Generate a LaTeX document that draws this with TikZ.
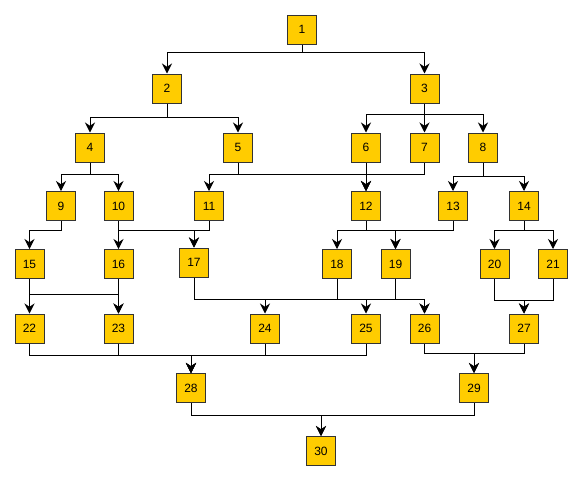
\documentclass[tikz,border=0pt]{standalone}
\usepackage{fontspec}
\setmainfont{Liberation Sans}
\usetikzlibrary{arrows.meta, positioning}
\definecolor{boxfill}{HTML}{FFCC00}
\definecolor{boxline}{HTML}{333333}
\tikzset{
	>={Stealth[length=10pt,width=10pt]}, % puntas de flecha
	box/.style={draw=boxline, fill=boxfill, line width=1pt, minimum size=29pt, inner sep=0pt, font=\fontsize{12}{14}\selectfont}, % cajas
	link/.style={->, line width=1pt} % conectores
}

\begin{document}
\begin{tikzpicture}[x=1pt, y=-1pt]
	\useasboundingbox (0,0) rectangle (582,480);
	\node[box] (n1) at (302,29.5) {1};
	\node[box] (n2) at (167,88.5) {2};
	\node[box] (n3) at (424.5,88.5) {3};
	\node[box] (n4) at (90,147.5) {4};
	\node[box] (n5) at (238,147.5) {5};
	\node[box] (n6) at (366,147.5) {6};
	\node[box] (n7) at (424.5,147.5) {7};
	\node[box] (n8) at (483,147.5) {8};
	\node[box] (n9) at (61,206) {9};
	\node[box] (n10) at (118.5,206) {10};
	\node[box] (n11) at (209,206) {11};
	\node[box] (n12) at (366,206) {12};
	\node[box] (n13) at (453,206) {13};
	\node[box] (n14) at (524,206) {14};
	\node[box] (n15) at (29.5,264) {15};
	\node[box] (n16) at (118.5,264) {16};
	\node[box] (n17) at (194,262.5) {17};
	\node[box] (n18) at (337,264) {18};
	\node[box] (n19) at (395.5,264) {19};
	\node[box] (n20) at (494.5,264) {20};
	\node[box] (n21) at (553,264) {21};
	\node[box] (n22) at (29.5,328.5) {22};
	\node[box] (n23) at (118.5,328.5) {23};
	\node[box] (n24) at (265,328.5) {24};
	\node[box] (n25) at (366,328.5) {25};
	\node[box] (n26) at (424.5,328.5) {26};
	\node[box] (n27) at (524,328.5) {27};
	\node[box] (n28) at (191,388) {28};
	\node[box] (n29) at (474,388) {29};
	\node[box] (n30) at (321,451) {30};
	% nivel 1 y 2
	\draw[link] (n1.south) -- ++(0,8) -| (n2);
	\draw[link] (n1.south) -- ++(0,8) -| (n3);
	\draw[link] (n2.south) -- ++(0,14) -| (n4);
	\draw[link] (n2.south) -- ++(0,14) -| (n5);
	\draw[link] (n3.south) -- ++(0,11) -| (n6);
	\draw[link] (n3.south) -- ++(0,11) -| (n7);
	\draw[link] (n3.south) -- ++(0,11) -| (n8);
	% nivel 3
	\draw[link] (n4.south) -- ++(0,12) -| (n9);
	\draw[link] (n4.south) -- ++(0,12) -| (n10);
	\draw[link] (n5.south) -- ++(0,12) -| (n11);
	\draw[link] (n5.south) -- ++(0,12) -| (n12);
	\draw[link] (n6) -- (n12);
	\draw[link] (n7.south) -- ++(0,12) -| (n12);
	\draw[link] (n8.south) -- ++(0,13.5) -| (n13);
	\draw[link] (n8.south) -- ++(0,13.5) -| (n14);
	% nivel 4
	\draw[link] (n9.south) -- ++(0,9.5) -| (n15);
	\draw[link] (n10) -- (n16);
	\draw[link] (n10.south) -- ++(0,9.5) -| (n17);
	\draw[link] (n11.south) -- ++(0,9.5) -| (n17);
	\draw[link] (n12.south) -- ++(0,9.5) -| (n18);
	\draw[link] (n12.south) -- ++(0,9.5) -| (n19);
	\draw[link] (n13.south) -- ++(0,9.5) -| (n19);
	\draw[link] (n14.south) -- ++(0,9.5) -| (n20);
	\draw[link] (n14.south) -- ++(0,9.5) -| (n21);
	% nivel 5
	\draw[link] (n15) -- (n22);
	\draw[link] (n15.south) -- ++(0,15) -| (n23);
	\draw[link] (n16) -- (n23);
	\draw[link] (n17.south) -- ++(0,21.5) -| (n24);
	\draw[link] (n17.south) -- ++(0,21.5) -| (n26);
	\draw[link] (n18.south) -- ++(0,20) -| (n25);
	\draw[link] (n19.south) -- ++(0,20) -| (n26);
	\draw[link] (n20.south) -- ++(0,21) -| (n27);
	\draw[link] (n21.south) -- ++(0,21) -| (n27);
	% nivel 6 y 7
	\draw[link] (n22.south) -- ++(0,11.5) -| (n28);
	\draw[link] (n23.south) -- ++(0,11.5) -| (n28);
	\draw[link] (n24.south) -- ++(0,11.5) -| (n28);
	\draw[link] (n25.south) -- ++(0,11.5) -| (n28);
	\draw[link] (n26.south) -- ++(0,9.5) -| (n29);
	\draw[link] (n27.south) -- ++(0,9.5) -| (n29);
	\draw[link] (n28.south) -- ++(0,12) -| (n30);
	\draw[link] (n29.south) -- ++(0,12) -| (n30);
\end{tikzpicture}
\end{document}
